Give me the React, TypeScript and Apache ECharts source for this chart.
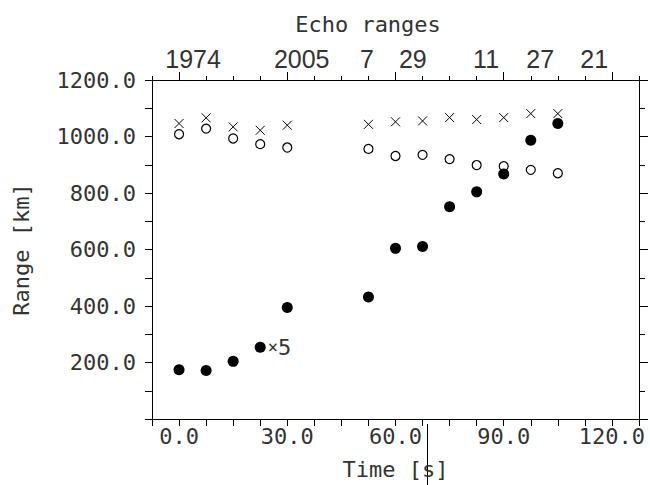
import React, { useEffect, useRef } from 'react';
import * as echarts from 'echarts';

// Time of each echo [s]
const times = [0, 7.5, 15, 22.5, 30, 52.5, 60, 67.5, 75, 82.5, 90, 97.5, 105];
// Ranges [km]
const crossRange = [1046, 1066, 1034, 1022, 1040, 1043, 1052, 1055, 1067, 1060, 1067, 1081, 1081];
const circleRange = [1008, 1028, 993, 973, 961, 956, 931, 935, 920, 899, 895, 882, 870];
const dotRange = [174, 172, 204, 254, 395, 432, 604, 611, 751, 804, 867, 987, 1046];
// index of the dot annotated with "×5"
const annotatedIndex = 3;

// Top axis labels and their positions (time axis)
const topLabels = ['1974', '2005', '7', '29', '11', '27', '21'];
const topLabelTimes = [3.9, 34, 52.1, 64.8, 85.1, 100.1, 115.1];
const majorTimes = [0, 30, 60, 90, 120];

const X_MIN = -7.5;
const X_MAX = 127.5;
const X_STEP = 7.5;
const Y_MIN = 0;
const Y_MAX = 1200;
const Y_STEP = 200;

const HERSHEY = 'DejaVu Sans Mono';
const TXT = '#333';

export default function App() {
  const ref = useRef<HTMLDivElement>(null);
  useEffect(() => {
    const chart = echarts.init(ref.current!, null, { renderer: 'svg' });
    const lineStyle = { color: '#000', width: 1 };
    const option: any = {
      animation: false,
      backgroundColor: '#fff',
      grid: { left: 152, right: 11, top: 80, bottom: 62 },
      graphic: [
        {
          type: 'text',
          x: 368,
          y: 24,
          style: {
            text: 'Echo ranges',
            fontFamily: HERSHEY,
            fontSize: 22,
            fill: TXT,
            textAlign: 'center',
            textVerticalAlign: 'middle',
          },
        },
        {
          type: 'line',
          shape: { x1: 427.5, y1: 424, x2: 427.5, y2: 485 },
          style: { stroke: '#000', lineWidth: 1 },
        },
      ],
      xAxis: [
        {
          type: 'value',
          position: 'bottom',
          min: X_MIN,
          max: X_MAX,
          interval: X_STEP,
          axisLine: { show: true, onZero: false, lineStyle },
          axisTick: { show: true, inside: false, length: 7, lineStyle },
          axisLabel: {
            formatter: (v: number) => (v % 30 === 0 ? v.toFixed(1) : ''),
            margin: 6,
            fontFamily: HERSHEY,
            fontSize: 22,
            color: TXT,
          },
          splitLine: { show: false },
          name: 'Time [s]',
          nameLocation: 'middle',
          nameGap: 39,
          nameTextStyle: { fontFamily: HERSHEY, fontSize: 22, color: TXT },
        },
        {
          type: 'value',
          position: 'top',
          min: X_MIN,
          max: X_MAX,
          interval: X_STEP,
          axisLine: { show: true, onZero: false, lineStyle },
          axisTick: { show: true, inside: false, length: 4, lineStyle },
          axisLabel: { show: false },
          splitLine: { show: false },
        },
        {
          type: 'value',
          position: 'top',
          min: X_MIN,
          max: X_MAX,
          axisLine: { show: false, onZero: false },
          axisTick: { show: true, inside: false, length: 8, lineStyle, customValues: majorTimes },
          axisLabel: { show: false },
          splitLine: { show: false },
        },
        {
          type: 'value',
          position: 'top',
          min: X_MIN,
          max: X_MAX,
          axisLine: { show: false, onZero: false },
          axisTick: { show: false },
          axisLabel: {
            show: true,
            customValues: topLabelTimes,
            formatter: (v: number) => {
              const i = topLabelTimes.indexOf(v);
              return i >= 0 ? topLabels[i] : '';
            },
            margin: 9,
            fontFamily: 'Liberation Sans',
            fontSize: 25,
            color: TXT,
          },
          splitLine: { show: false },
        },
      ],
      yAxis: [
        {
          type: 'value',
          position: 'left',
          min: Y_MIN,
          max: Y_MAX,
          interval: Y_STEP,
          axisLine: { show: true, onZero: false, lineStyle },
          axisTick: { show: true, inside: false, length: 7, lineStyle },
          minorTick: { show: true, splitNumber: 2, length: 7, lineStyle },
          axisLabel: {
            formatter: (v: number) => (v > 0 ? v.toFixed(1) : ''),
            margin: 16,
            fontFamily: HERSHEY,
            fontSize: 22,
            color: TXT,
          },
          splitLine: { show: false },
          minorSplitLine: { show: false },
          name: 'Range [km]',
          nameLocation: 'middle',
          nameGap: 120,
          nameRotate: 90,
          nameTextStyle: { fontFamily: HERSHEY, fontSize: 22, color: TXT },
        },
        {
          type: 'value',
          position: 'right',
          min: Y_MIN,
          max: Y_MAX,
          interval: Y_STEP,
          axisLine: { show: true, onZero: false, lineStyle },
          axisTick: { show: true, inside: false, length: 9, lineStyle },
          minorTick: { show: true, splitNumber: 2, length: 6, lineStyle },
          axisLabel: { show: false },
          splitLine: { show: false },
          minorSplitLine: { show: false },
        },
      ],
      series: [
        {
          type: 'scatter',
          name: 'cross',
          xAxisIndex: 0,
          yAxisIndex: 0,
          symbol: 'path://M0,0L10,10M10,0L0,10',
          symbolSize: 9,
          itemStyle: { color: 'transparent', borderColor: '#000', borderWidth: 1, opacity: 1 },
          data: times.map((t, i) => [t, crossRange[i]]),
        },
        {
          type: 'scatter',
          name: 'circle',
          xAxisIndex: 0,
          yAxisIndex: 0,
          symbol: 'circle',
          symbolSize: 9,
          itemStyle: { color: '#fff', borderColor: '#000', borderWidth: 1.2, opacity: 1 },
          data: times.map((t, i) => [t, circleRange[i]]),
        },
        {
          type: 'scatter',
          name: 'dot',
          xAxisIndex: 0,
          yAxisIndex: 0,
          symbol: 'circle',
          symbolSize: 11,
          itemStyle: { color: '#000', opacity: 1 },
          data: times.map((t, i) =>
            i === annotatedIndex
              ? {
                  value: [t, dotRange[i]],
                  label: {
                    show: true,
                    position: 'right',
                    distance: 2,
                    formatter: '{x|×}{n|5}',
                    rich: {
                      x: { fontFamily: HERSHEY, fontSize: 17, color: TXT },
                      n: { fontFamily: HERSHEY, fontSize: 22, color: TXT },
                    },
                  },
                }
              : [t, dotRange[i]]
          ),
        },
      ],
    };
    chart.setOption(option);
    return () => chart.dispose();
  }, []);
  return (
    <div
      ref={ref}
      style={{ position: 'fixed', left: 0, top: 0, width: 650, height: 485, background: '#fff' }}
    />
  );
}
